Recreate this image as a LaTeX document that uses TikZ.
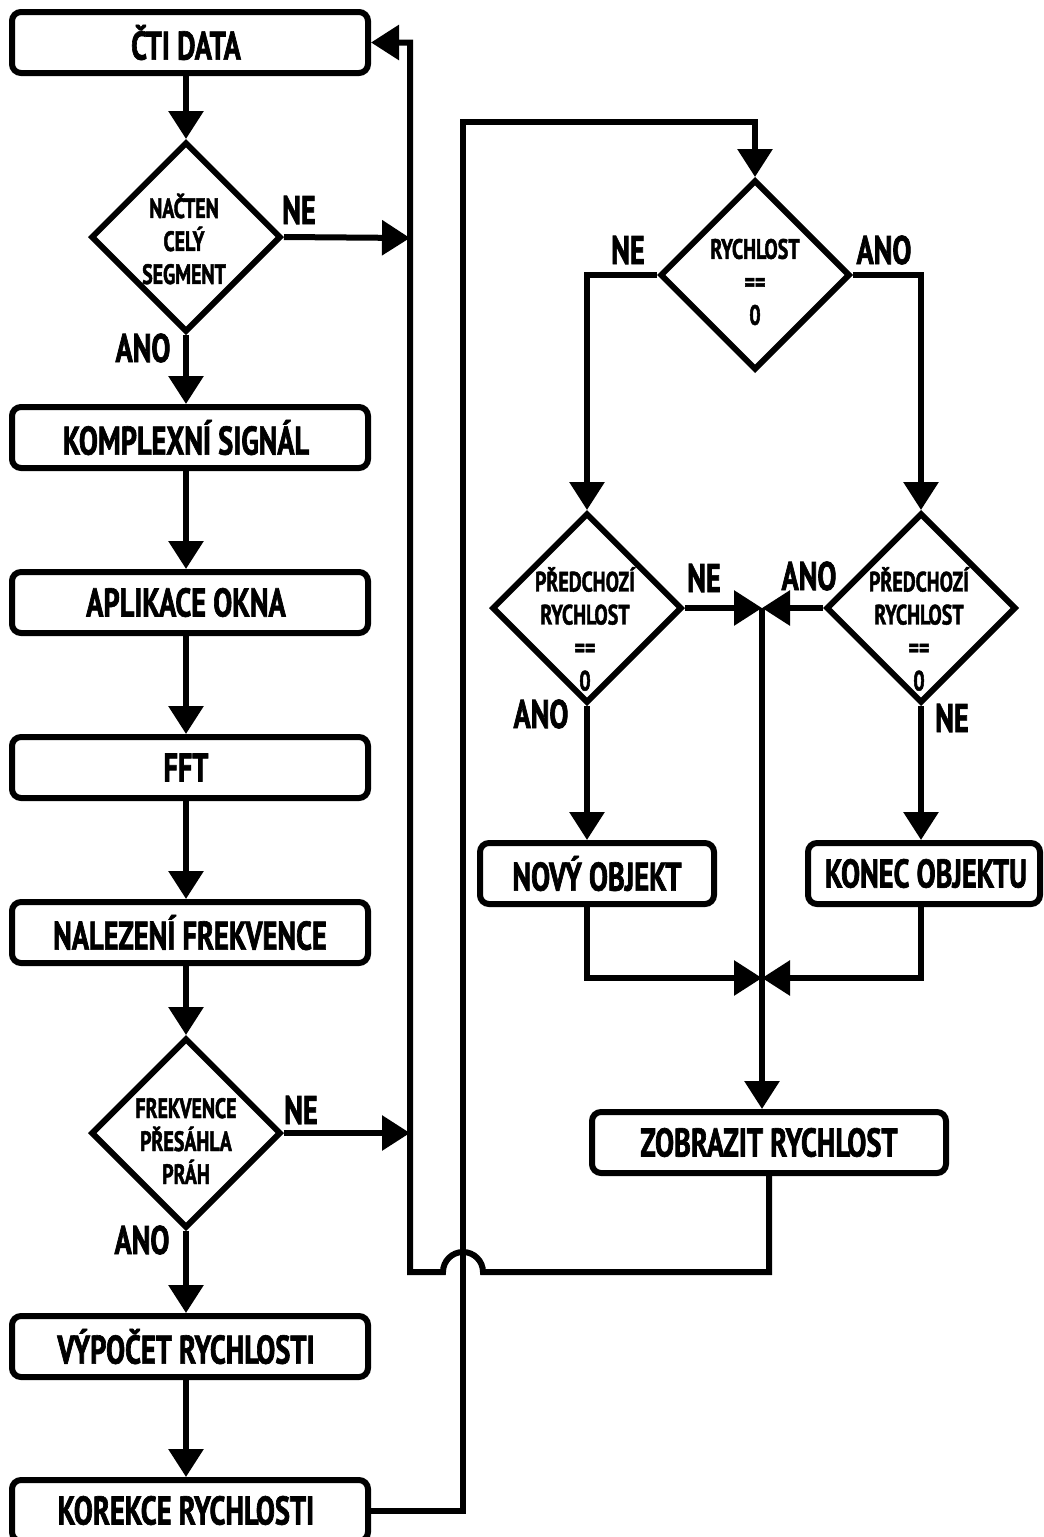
\documentclass[tikz,border=0pt]{standalone}
\usepackage{fontspec}
\newfontfamily\cond[FakeStretch=0.71,BoldFeatures={FakeBold=1.6}]{PT Sans}
\usetikzlibrary{arrows.meta,shapes.geometric}
\begin{document}
\begin{tikzpicture}[x=1pt,y=-1pt,line width=6pt,line join=miter,
  box/.style={draw,rounded corners=9pt,minimum height=61pt,inner sep=0pt,font=\cond\bfseries\fontsize{40}{40}\selectfont},
  dia/.style={draw,diamond,aspect=1,minimum width=190pt,minimum height=190pt,inner sep=0pt},
  dtxt/.style={align=center,inner sep=0pt,font=\cond\bfseries\fontsize{28}{33}\selectfont},
  lbl/.style={inner sep=0pt,font=\cond\bfseries\fontsize{40}{40}\selectfont},
  arr/.style={-{Triangle[length=28pt,width=34pt]}}]
\useasboundingbox (0,0) rectangle (1044,1537);
% left column
\node[box,minimum width=356pt] (cti) at (190,42.5) {\hspace*{-8pt}ČTI DATA};
\node[dia] (d1) at (186,237) {};
\node[dtxt] at (184,239) {NAČTEN\\CELÝ\\SEGMENT};
\node[box,minimum width=356pt] (kom) at (190,437.5) {\hspace*{-8pt}KOMPLEXNÍ SIGNÁL};
\node[box,minimum width=356pt] (apl) at (190,602.5) {\hspace*{-8pt}APLIKACE OKNA};
\node[box,minimum width=356pt] (fft) at (190,767.5) {\hspace*{-8pt}FFT};
\node[box,minimum width=356pt] (nal) at (190,932.5) {NALEZENÍ FREKVENCE};
\node[dia] (d2) at (186,1133) {};
\node[dtxt] at (186,1141) {FREKVENCE\\PŘESÁHLA\\PRÁH};
\node[box,minimum width=356pt] (vyp) at (190,1346.5) {\hspace*{-8pt}VÝPOČET RYCHLOSTI};
\node[box,minimum width=356pt] (kor) at (190,1510.5) {\hspace*{-8pt}KOREKCE RYCHLOSTI};
% right part
\node[dia] (d3) at (755,275) {};
\node[dtxt] at (755,282) {RYCHLOST\\==\\0};
\node[dia] (d4) at (587,608) {};
\node[dtxt] at (585,629) {PŘEDCHOZÍ\\RYCHLOST\\==\\0};
\node[dia] (d5) at (921,608) {};
\node[dtxt] at (919,629) {PŘEDCHOZÍ\\RYCHLOST\\==\\0};
\node[box,minimum width=234pt] (nov) at (597,873.5) {NOVÝ OBJEKT};
\node[box,minimum width=232pt] (kon) at (924,873.5) {\hspace*{4pt}KONEC OBJEKTU};
\node[box,minimum width=354pt] (zob) at (769,1142.5) {ZOBRAZIT RYCHLOST};
% labels
\node[lbl] (l1) at (299,210) {NE};
\node[lbl] (l2) at (143,348) {ANO};
\node[lbl] (l3) at (301,1110) {NE};
\node[lbl] (l4) at (142,1240) {ANO};
\node[lbl] (l5) at (628,250) {NE};
\node[lbl] (l6) at (884,250) {ANO};
\node[lbl] (l7) at (704,578) {NE};
\node[lbl] (l8) at (809,576) {ANO};
\node[lbl] (l9) at (541,714) {ANO};
\node[lbl] (l10) at (952,718) {NE};
% coordinates
\coordinate (bus) at (410,238);
\coordinate (bus2) at (410,1133);
\coordinate (loopBL) at (410,1272);
\coordinate (loopTL) at (410,42.5);
\coordinate (hopR) at (483,1272);
\coordinate (up1) at (463,122);
\coordinate (j1) at (762,608);
\coordinate (j2) at (762,978);
\coordinate (lftc) at (587,275);
\coordinate (rgtc) at (921,275);
% left connectors
\draw[arr] (cti.south -| d1.north) -- (d1.north);
\draw[arr] (d1.east) -- (bus);
\draw[arr] (d1.south) -- (d1.south |- kom.north);
\draw[arr] (kom.south -| d1.south) -- (apl.north -| d1.south);
\draw[arr] (apl.south -| d1.south) -- (fft.north -| d1.south);
\draw[arr] (fft.south -| d1.south) -- (nal.north -| d1.south);
\draw[arr] (nal.south -| d2.north) -- (d2.north);
\draw[arr] (d2.east) -- (bus2);
\draw[arr] (d2.south) -- (d2.south |- vyp.north);
\draw[arr] (vyp.south -| d2.south) -- (kor.north -| d2.south);
% loop back
\draw[arr] (zob.south) -- (zob.south |- hopR) -- (hopR) arc[start angle=0,end angle=180,radius=20pt] -- (loopBL) -- (loopTL) -- (cti.east);
% up to right part
\draw[arr] (kor.east) -| (up1) -- (up1 -| d3.north) -- (d3.north);
% right connectors
\draw[arr] (d3.west) -- (lftc) -- (d4.north);
\draw[arr] (d3.east) -- (rgtc) -- (d5.north);
\draw[arr] (d4.east) -- (j1);
\draw[arr] (d5.west) -- (j1);
\draw[arr] (j1) -- (j1 |- zob.north);
\draw[arr] (d4.south) -- (d4.south |- nov.north);
\draw[arr] (d5.south) -- (d5.south |- kon.north);
\draw[arr] (nov.south -| d4.south) -- (d4.south |- j2) -- (j2);
\draw[arr] (kon.south -| d5.south) -- (d5.south |- j2) -- (j2);
\end{tikzpicture}
\end{document}
